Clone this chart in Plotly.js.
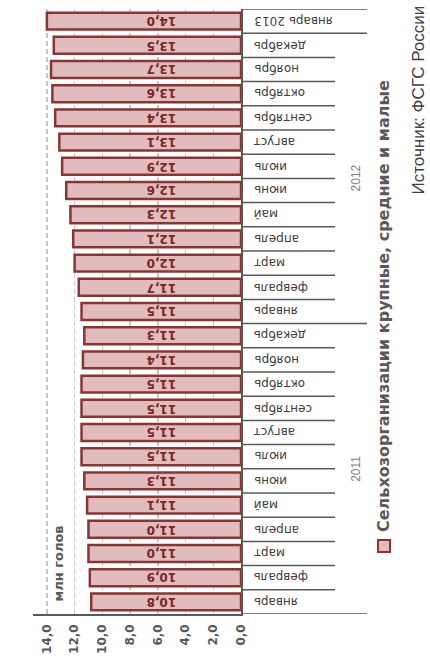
<!DOCTYPE html>
<html>
<head>
<meta charset="utf-8">
<script src="https://cdn.plot.ly/plotly-3.0.1.min.js"></script>
<style>
html,body{margin:0;padding:0;background:#fff;}
#chart{width:430px;height:663px;}
</style>
</head>
<body>
<div id="chart"></div>
<script>
const months = ['январь','февраль','март','апрель','май','июнь','июль','август','сентябрь','октябрь','ноябрь','декабрь',
                'январь','февраль','март','апрель','май','июнь','июль','август','сентябрь','октябрь','ноябрь','декабрь',
                'январь 2013'];
const years = ['2011','2011','2011','2011','2011','2011','2011','2011','2011','2011','2011','2011',
               '2012','2012','2012','2012','2012','2012','2012','2012','2012','2012','2012','2012',
               '2013'];
const values = [10.8,10.9,11.0,11.0,11.1,11.3,11.5,11.5,11.5,11.5,11.4,11.3,
                11.5,11.7,12.0,12.1,12.3,12.6,12.9,13.1,13.4,13.6,13.7,13.5,
                14.0];
const yearLabels = ['2011','2012'];
const xTicks = [0,2,4,6,8,10,12,14];
const seriesName = 'Сельхозорганизации крупные, средние и малые';
const unitLabel = 'млн голов';
const sourceText = 'Источник: ФСГС России';

const keys = months.map((m,i) => years[i] + ' ' + m);
const fmt = v => v.toFixed(1).replace('.', ',');

const FILL = '#e0bcbc', EDGE = '#8c3434', AXIS = '#595959';
const LABEL_X = 4.5;

const trace = {
  type: 'bar', orientation: 'h',
  y: keys, x: values, name: seriesName,
  width: 0.7,
  marker: {color: FILL, line: {color: EDGE, width: 2.5}},
  hoverinfo: 'skip', showlegend: false
};

const annotations = [];
keys.forEach((k,i) => annotations.push({
  xref:'x', yref:'y', x: LABEL_X, y: k, text: '<b>' + fmt(values[i]) + '</b>',
  showarrow:false, xanchor:'right', yanchor:'middle', textangle:180,
  font:{family:'DejaVu Sans', size:12, color:'#7a2626'}
}));
keys.forEach((k,i) => annotations.push({
  xref:'paper', yref:'y', x: 1, xshift: 11, y: k, text: months[i],
  showarrow:false, xanchor:'left', yanchor:'middle', textangle:180,
  font:{family:'DejaVu Sans', size:12, color:'#404040'}
}));
yearLabels.forEach(y => {
  const idx = years.map((v,i)=>v===y?i:-1).filter(i=>i>=0);
  const mid = (idx[0] + idx[idx.length-1]) / 2;
  annotations.push({
    xref:'paper', yref:'y', x:1, xshift:115, y: mid, text: y,
    showarrow:false, xanchor:'center', yanchor:'middle', textangle:-90,
    font:{family:'Liberation Sans', size:12, color:'#7f7f7f'}
  });
});
annotations.push({
  xref:'paper', yref:'paper', x:0, xshift:24.5, y:0, yshift:10, text:'<b>'+unitLabel+'</b>',
  showarrow:false, xanchor:'center', yanchor:'bottom', textangle:-90,
  font:{family:'DejaVu Sans', size:13, color:AXIS}
});
annotations.push({
  xref:'paper', yref:'paper', x:1, xshift:142, y:0, yshift:80, text:'<b>'+seriesName+'</b>',
  showarrow:false, xanchor:'center', yanchor:'bottom', textangle:-90,
  font:{family:'DejaVu Sans', size:16, color:AXIS}
});
annotations.push({
  xref:'paper', yref:'paper', x:1, xshift:177, y:1, yshift:5, text:sourceText,
  showarrow:false, xanchor:'center', yanchor:'top', textangle:-90,
  font:{family:'Liberation Sans', size:17, color:'#404040'}
});

const shapes = [];
for (let i = 0; i <= keys.length; i++) {
  const isLong = (i === 0 || i === keys.length || years[i] !== years[i-1]);
  shapes.push({
    type:'line', xref:'paper', xsizemode:'pixel', xanchor:1, x0:0, x1: isLong ? 126 : 94,
    yref:'y', y0: i - 0.5, y1: i - 0.5,
    line:{color:AXIS, width:1.5}
  });
}
shapes.push({
  type:'rect', xref:'paper', xsizemode:'pixel', xanchor:1, x0:137, x1:149,
  yref:'paper', ysizemode:'pixel', yanchor:0, y0:62, y1:74,
  fillcolor:FILL, line:{color:EDGE, width:2}
});

const layout = {
  width:430, height:663,
  margin:{l:33, r:189, t:9, b:49},
  paper_bgcolor:'#fff', plot_bgcolor:'#fff',
  separators:',.',
  showlegend:false,
  xaxis:{
    range:[15,0], tickvals:xTicks, tickformat:'.1f', tickangle:-90,
    showgrid:true, gridcolor:'#c6c6cc', gridwidth:1.5, griddash:'5px,3px',
    zeroline:false, showline:true, linecolor:AXIS, linewidth:1.5,
    ticks:'', ticklabelstandoff:4,
    tickfont:{family:'DejaVu Sans', size:12, color:AXIS, weight:'bold'},
    fixedrange:true
  },
  yaxis:{
    type:'category', categoryorder:'array', categoryarray:keys,
    range:[-0.5, keys.length-0.5], side:'right',
    showline:true, linecolor:AXIS, linewidth:1.5,
    showgrid:false, zeroline:false, showticklabels:false, ticks:'',
    fixedrange:true
  },
  annotations: annotations,
  shapes: shapes
};

Plotly.newPlot('chart', [trace], layout, {displayModeBar:false, staticPlot:true});
</script>
</body>
</html>
